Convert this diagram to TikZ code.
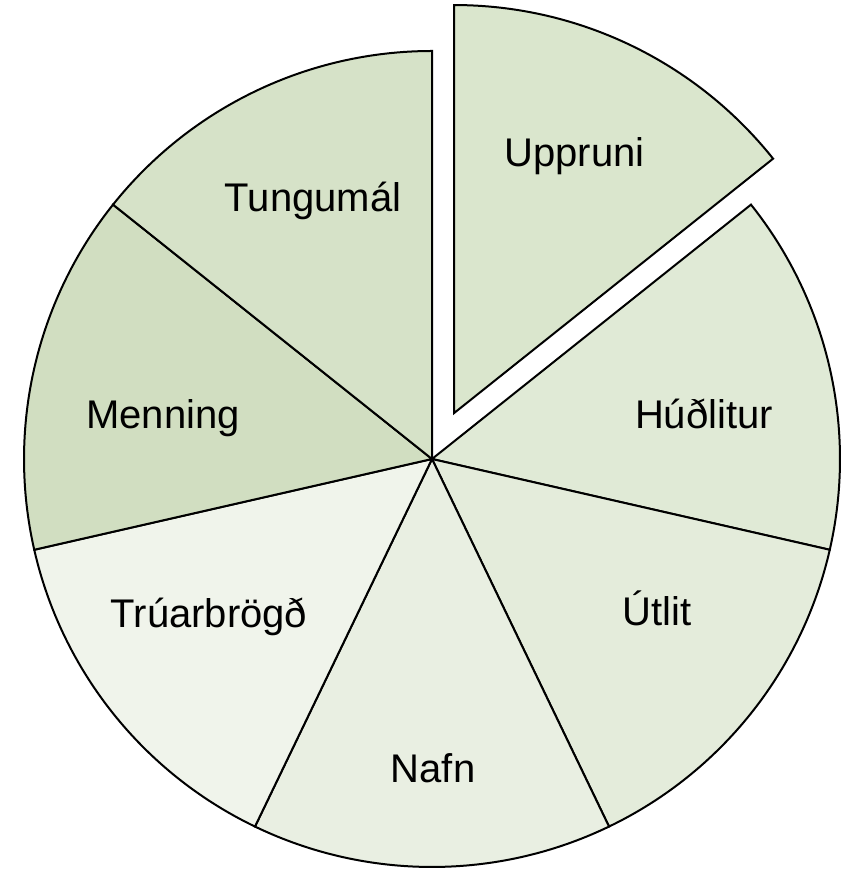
\documentclass[tikz,border=0pt]{standalone}
\usepackage{fontspec}
\setmainfont{Liberation Sans}
\usetikzlibrary{calc}
\definecolor{cUpp}{RGB}{218,230,205}
\definecolor{cHud}{RGB}{224,234,214}
\definecolor{cUtl}{RGB}{228,236,219}
\definecolor{cNaf}{RGB}{233,239,226}
\definecolor{cTru}{RGB}{240,244,235}
\definecolor{cMen}{RGB}{209,222,193}
\definecolor{cTun}{RGB}{214,226,200}
\tikzset{
  slice/.style={draw=black,line width=2pt,line join=miter},
  lbl/.style={anchor=base,inner sep=0pt,font=\fontsize{40}{48}\selectfont}
}
\newcommand{\pieslice}[4]{% center, start, end, color
  \filldraw[slice,fill=#4] (#1) -- ++(#2:408) arc[start angle=#2,end angle=#3,radius=408] -- cycle;
}
\begin{document}
\begin{tikzpicture}[x=1pt,y=1pt]
\useasboundingbox (0,0) rectangle (841,869);
\coordinate (C) at (432,410);
\coordinate (CE) at ($(C)+(64.2857:51)$);
\pieslice{CE}{90}{38.5714}{cUpp}
\pieslice{C}{38.5714}{-12.8571}{cHud}
\pieslice{C}{-12.8571}{-64.2857}{cUtl}
\pieslice{C}{-64.2857}{-115.7143}{cNaf}
\pieslice{C}{-115.7143}{-167.1429}{cTru}
\pieslice{C}{-167.1429}{-218.5714}{cMen}
\pieslice{C}{-218.5714}{-270}{cTun}
\node[lbl] (upp) at (574.5,702) {Uppruni};
\node[lbl] (hud) at (704,440) {Húðlitur};
\node[lbl] (utl) at (657,243) {Útlit};
\node[lbl] (naf) at (433,86) {Nafn};
\node[lbl] (tru) at (209,241) {Trúarbrögð};
\node[lbl] (men) at (163,440) {Menning};
\node[lbl] (tun) at (313,657) {Tungumál};
\end{tikzpicture}
\end{document}
